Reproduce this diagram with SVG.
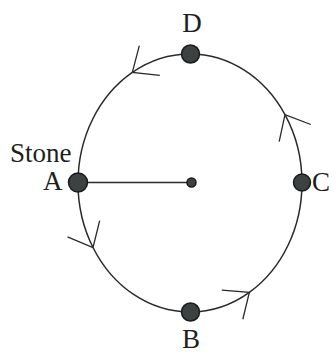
<svg xmlns="http://www.w3.org/2000/svg" width="336" height="354" viewBox="0 0 336 354">
<style>
  .lbl { font-family: "Liberation Serif", "DejaVu Serif", "Times New Roman", serif; font-size: 27px; fill: #1e1e1e; }
  .arc { fill: none; stroke: #2a2a2a; stroke-width: 1.5; }
  .dot { fill: #3b4241; stroke: #1a1a1a; stroke-width: 1.5; }
</style>
<defs>
  <marker id="chev" markerUnits="userSpaceOnUse" viewBox="-26 -22 30 44" markerWidth="30" markerHeight="44" refX="0" refY="0" orient="auto">
    <path d="M -21 -18 L 0 0 L -21 18" fill="none" stroke="#2a2a2a" stroke-width="1.3"/>
  </marker>
</defs>
<rect width="336" height="354" fill="#ffffff"/>
<g id="connectors">
  <path class="arc" d="M78,183 A112,129 0 0 0 93,247.5" marker-end="url(#chev)"/>
  <path class="arc" d="M93,247.5 A112,129 0 0 0 190,312"/>
  <path class="arc" d="M190,312 A112,129 0 0 0 249.35,292.39" marker-end="url(#chev)"/>
  <path class="arc" d="M249.35,292.39 A112,129 0 0 0 302,183"/>
  <path class="arc" d="M302,183 A112,129 0 0 0 284.98,114.64" marker-end="url(#chev)"/>
  <path class="arc" d="M284.98,114.64 A112,129 0 0 0 190,54"/>
  <path class="arc" d="M190,54 A112,129 0 0 0 132.32,72.42" marker-end="url(#chev)"/>
  <path class="arc" d="M132.32,72.42 A112,129 0 0 0 78,183"/>
  <line x1="78" y1="182.5" x2="191" y2="182.5" stroke="#2a2a2a" stroke-width="1.5"/>
</g>
<g id="center">
  <circle class="dot" cx="191.5" cy="182.5" r="4.5"/>
</g>
<g id="A">
  <circle class="dot" cx="78" cy="182.5" r="9.5"/>
  <text class="lbl" font-family="Liberation Serif, serif" x="10" y="162">Stone</text>
  <text class="lbl" font-family="Liberation Serif, serif" x="43" y="190">A</text>
</g>
<g id="B">
  <circle class="dot" cx="190.5" cy="312" r="9"/>
  <text class="lbl" font-family="Liberation Serif, serif" x="191" y="348" text-anchor="middle">B</text>
</g>
<g id="C">
  <circle class="dot" cx="302" cy="182.5" r="8.5"/>
  <text class="lbl" font-family="Liberation Serif, serif" x="312" y="191">C</text>
</g>
<g id="D">
  <circle class="dot" cx="190.5" cy="54" r="9"/>
  <text class="lbl" font-family="Liberation Serif, serif" x="192" y="32" text-anchor="middle">D</text>
</g>
</svg>
